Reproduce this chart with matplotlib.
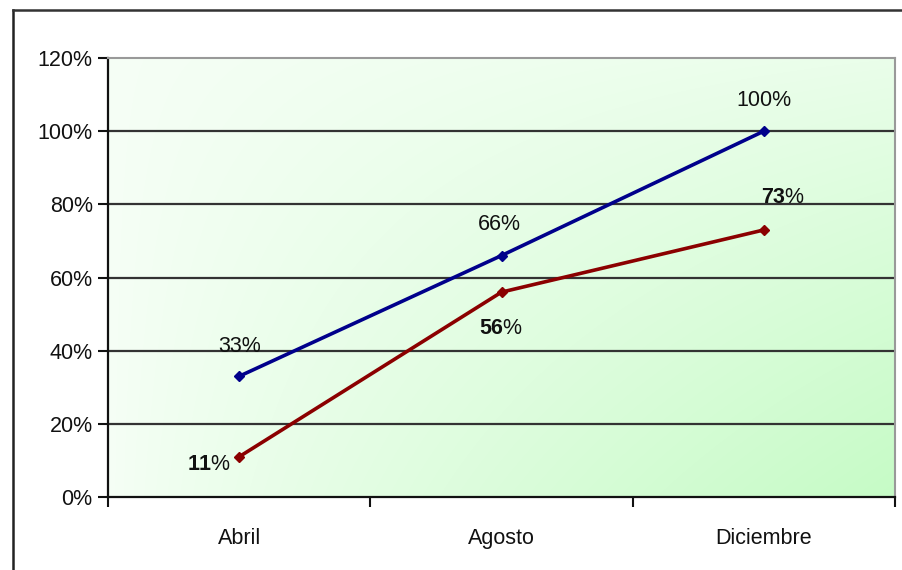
import numpy as np
import matplotlib
matplotlib.use("Agg")
import matplotlib.pyplot as plt
from matplotlib.colors import to_rgb
from matplotlib.lines import Line2D

plt.rcParams['font.family'] = ['Liberation Sans', 'DejaVu Sans']
plt.rcParams['mathtext.fontset'] = 'custom'
plt.rcParams['mathtext.bf'] = 'Liberation Sans:bold'
plt.rcParams['mathtext.rm'] = 'Liberation Sans'

months = ["Abril", "Agosto", "Diciembre"]
serie_azul = [33, 66, 100]
serie_roja = [11, 56, 73]
yticks = [0, 20, 40, 60, 80, 100, 120]

fig = plt.figure(figsize=(9.02, 5.70), dpi=100)
fig.patch.set_facecolor("white")
W, H = 902, 570
ax = fig.add_axes([108 / W, 1 - 497 / H, (895 - 108) / W, (497 - 58) / H])

# green gradient, lightest at the top-left, strongest at the bottom-right
ny, nx = 200, 400
xx, yy = np.meshgrid(np.linspace(0, 1, nx), np.linspace(0, 1, ny))
t = np.clip(xx ** 0.8 * (0.25 + 0.75 * yy ** 0.9), 0, 1)
c0 = np.array(to_rgb("#f6fff6"))
c1 = np.array(to_rgb("#c6fbc6"))
img = c0[None, None, :] * (1 - t[..., None]) + c1[None, None, :] * t[..., None]
ax.imshow(img, extent=[0, 3, 0, 120], origin="upper", aspect="auto", zorder=0,
          interpolation="bilinear")

ax.set_xlim(0, 3)
ax.set_ylim(0, 120)

for v in yticks[1:-1]:
    ax.axhline(v, color="#333333", lw=1.6, zorder=1)

x = np.arange(len(months)) + 0.5
ax.plot(x, serie_azul, color="#00008b", lw=2.6, marker="D", ms=5, zorder=3)
ax.plot(x, serie_roja, color="#8b0000", lw=2.6, marker="D", ms=5, zorder=3)

fs = 15.5
azul_off = [(0, 30), (-2, 31), (0, 31)]
for xi, v, off in zip(x, serie_azul, azul_off):
    ax.annotate(f"{v}%", (xi, v), xytext=off, textcoords="offset pixels",
                ha="center", va="center", fontsize=fs, color="#111111", zorder=4)

roja_off = [(-30, -8), (0, -36), (19, 32)]
for xi, v, off in zip(x, serie_roja, roja_off):
    ax.annotate(r"$\mathbf{" + str(v) + r"}$%", (xi, v), xytext=off,
                textcoords="offset pixels", ha="center", va="center",
                fontsize=fs, color="#111111", zorder=4)

ax.set_yticks(yticks)
ax.set_yticklabels([f"{v}%" for v in yticks], fontsize=fs, color="#111111")
ax.set_xticks([0, 1, 2, 3])
ax.set_xticklabels([])
ax.set_xticks(x, minor=True)
ax.set_xticklabels(months, minor=True, fontsize=fs, color="#111111")
ax.tick_params(axis="x", which="minor", length=0, pad=22)
ax.tick_params(axis="x", which="major", length=7, width=1.5, direction="out", color="#111111")
ax.tick_params(axis="y", length=7, width=1.5, direction="out", color="#111111", pad=4)

ax.spines["left"].set_color("#111111")
ax.spines["left"].set_linewidth(1.6)
ax.spines["bottom"].set_color("#111111")
ax.spines["bottom"].set_linewidth(1.6)
ax.spines["top"].set_color("#999999")
ax.spines["top"].set_linewidth(1.5)
ax.spines["right"].set_color("#999999")
ax.spines["right"].set_linewidth(1.5)

# outer chart frame
fig.add_artist(Line2D([13 / W, 13 / W], [0, 1 - 10 / H], transform=fig.transFigure,
                      color="#222222", lw=1.8))
fig.add_artist(Line2D([13 / W, 1], [1 - 10 / H, 1 - 10 / H], transform=fig.transFigure,
                      color="#333333", lw=1.8))

fig.savefig("out.png", dpi=100)
